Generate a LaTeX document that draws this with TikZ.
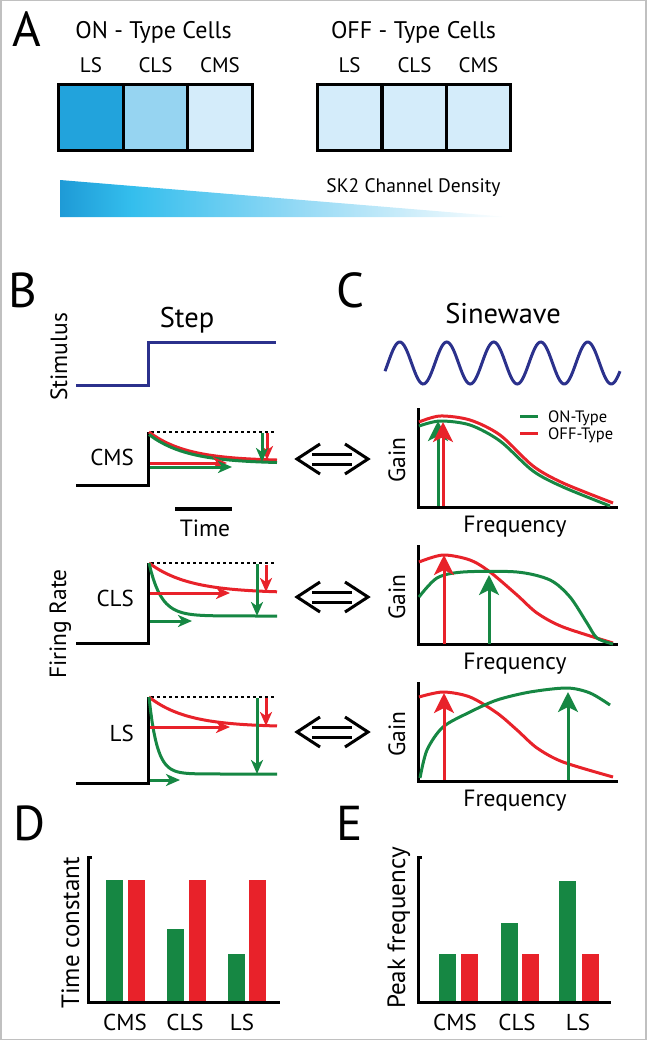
\documentclass[tikz,border=0pt]{standalone}
\usepackage{fontspec}
\setmainfont{PT Sans}
\usetikzlibrary{arrows.meta}

\definecolor{onGreen}{RGB}{22,135,67}
\definecolor{offRed}{RGB}{232,34,42}
\definecolor{stimBlue}{RGB}{43,49,140}
\definecolor{cellDark}{RGB}{34,163,220}
\definecolor{cellMid}{RGB}{150,212,241}
\definecolor{cellLight}{RGB}{212,236,250}
\definecolor{wedgeA}{RGB}{30,154,214}
\definecolor{wedgeB}{RGB}{52,190,237}
\definecolor{wedgeC}{RGB}{150,218,245}
\definecolor{frameGray}{RGB}{192,192,192}
\pgfdeclarehorizontalshading{skdensity}{100bp}{color(0bp)=(wedgeA); color(25bp)=(wedgeA); color(33bp)=(wedgeB); color(52bp)=(wedgeC); color(75bp)=(white); color(100bp)=(white)}

\begin{document}
\begin{tikzpicture}
[x=1pt,y=-1pt,
  panelLetter/.style={anchor=base west,inner sep=0pt,font=\fontsize{49}{49}\selectfont},
  titleText/.style={anchor=base,inner sep=0pt,font=\fontsize{24}{24}\selectfont},
  bigTitle/.style={anchor=base,inner sep=0pt,font=\fontsize{28.5}{28.5}\selectfont},
  cellLabel/.style={anchor=base,inner sep=0pt,font=\fontsize{21}{21}\selectfont},
  barLabel/.style={anchor=base,inner sep=0pt,font=\fontsize{23}{23}\selectfont},
  axisLabel/.style={anchor=base,inner sep=0pt,font=\fontsize{23.5}{23.5}\selectfont},
  rotLabel/.style={axisLabel,rotate=90},
  legendText/.style={anchor=base west,inner sep=0pt,font=\fontsize{16.5}{16.5}\selectfont},
  cellBox/.style={draw,line width=3pt,minimum width=64.5pt,minimum height=66pt,inner sep=0pt},
  blackLine/.style={line width=3pt},
  stimLine/.style={line width=3pt,color=stimBlue},
  redLine/.style={line width=3pt,color=offRed},
  greenLine/.style={line width=3pt,color=onGreen},
  stepArrow/.style={-{Stealth[length=14pt,width=12pt,inset=4pt]}},
  gainArrow/.style={-{Stealth[length=20pt,width=20pt,inset=5pt]}},
  baseLine/.style={dashed,line width=1.2pt,dash pattern=on 3pt off 3pt}]
\useasboundingbox (0,0) rectangle (647,1041);
\draw[frameGray,line width=1.5pt] (0.75,0.75) rectangle (646,1039.5);

%% panel A
\node[panelLetter] (letterA) at (12,47) {A};
\node[titleText] (onTitle) at (153.5,39) {ON - Type Cells};
\node[titleText] (offTitle) at (413.5,39) {OFF - Type Cells};
\foreach \name/\x/\col/\txt in {onLS/91/cellDark/LS, onCLS/155.5/cellMid/CLS, onCMS/220/cellLight/CMS,
  offLS/349.5/cellLight/LS, offCLS/414.5/cellLight/CLS, offCMS/478.5/cellLight/CMS}
{
  \node[cellBox,fill=\col] (\name) at (\x,117) {};
  \node[cellLabel] (\name-lbl) at ([yshift=10.5pt]\name.north) {\txt};
}
\shade[shading=skdensity] (60,180) -- (508,217) -- (60,217) -- cycle;
\node[cellLabel,font=\fontsize{19.5}{19.5}\selectfont] (density) at (413.5,192) {SK2 Channel Density};

%% panel B
\node[panelLetter] (letterB) at (8,307) {B};
\node[bigTitle] (stepTitle) at (187,327) {Step};
\node[rotLabel] (stimLbl) at (67,357) {Stimulus};
\draw[stimLine] (76,385) -- (148,385) -- (148,342) -- (276,342);
\node[rotLabel] (rateLbl) at (66,624) {Firing Rate};
\foreach \name/\txt/\yt/\yb/\yl in {cmsStep/CMS/432/485/465, clsStep/CLS/563/643/606, lsStep/LS/697/783/741}
{
  \node[barLabel,anchor=base east] (\name) at (134,\yl) {\txt};
  \draw[blackLine] (76,\yb) -- (148,\yb) -- (148,\yt);
  \draw[baseLine] (151,\yt) -- (276,\yt);
}
% CMS responses
\draw[redLine] plot[domain=0:128,samples=50] ({149+\x},{461-29*exp(-\x/38)});
\draw[greenLine] plot[domain=0:128,samples=50] ({149+\x},{463.5-29*exp(-\x/38)});
\draw[redLine,stepArrow] (150,463) -- (227,463);
\draw[greenLine,stepArrow] (150,467) -- (232,467);
\draw[redLine,stepArrow] (267,433) -- (267,460);
\draw[greenLine,stepArrow] (262,433) -- (262,462);
% time bar
\draw[line width=4pt] (175,509) -- (232,509);
\node[axisLabel] (timeLbl) at (205,536) {Time};
% CLS responses
\draw[redLine] plot[domain=0:128,samples=50] ({149+\x},{593-30*exp(-\x/40)});
\draw[greenLine] plot[domain=0:128,samples=60] ({149+\x},{616-53*exp(-\x/12)});
\draw[redLine,stepArrow] (150,593) -- (230,593);
\draw[greenLine,stepArrow] (150,621) -- (192,621);
\draw[greenLine,stepArrow] (257,564) -- (257,616);
\draw[redLine,stepArrow] (266,565) -- (266,592);
% LS responses
\draw[redLine] plot[domain=0:128,samples=50] ({149+\x},{727-30*exp(-\x/38)});
\draw[greenLine] plot[domain=0:128,samples=80] ({149+\x},{774-77*exp(-\x/8)});
\draw[redLine,stepArrow] (150,727) -- (230,727);
\draw[greenLine,stepArrow] (150,780) -- (180,780);
\draw[greenLine,stepArrow] (257,698) -- (257,774);
\draw[redLine,stepArrow] (266,698) -- (266,726);

%% double arrows between B and C
\foreach \y in {459,597,732}
{
  \draw[blackLine] (320,\y-15) -- (297,\y) -- (320,\y+15);
  \draw[blackLine] (345,\y-15) -- (368,\y) -- (345,\y+15);
  \draw[blackLine] (312,\y-5) -- (352,\y-5);
  \draw[blackLine] (312,\y+5) -- (352,\y+5);
}

%% panel C
\node[panelLetter] (letterC) at (336,307) {C};
\node[bigTitle] (sineTitle) at (503,323) {Sinewave};
\draw[stimLine] plot[domain=0:235,samples=150] ({385+\x},{363-21*sin((\x-3)/47*360)});
\foreach \name/\y in {cmsGain/408, clsGain/545, lsGain/682}
{
  \draw[blackLine] (418,\y) -- (418,\y+99) -- (618,\y+99);
  \node[rotLabel] (\name) at (405,\y+52) {Gain};
  \node[axisLabel] (\name-freq) at (515,\y+124) {Frequency};
}
% CMS gain
\draw[redLine] plot[smooth] coordinates {(419,422) (440,416) (470,420) (500,435) (533,466) (563,483) (613,503)};
\draw[greenLine] plot[smooth] coordinates {(419,426) (440,421) (470,425) (500,441) (533,471) (563,487) (610,506)};
\draw[greenLine,gainArrow] (438,506) -- (438,421);
\draw[redLine,gainArrow] (443,506) -- (443,422);
\draw[greenLine] (520,416) -- (538,416);
\draw[redLine] (520,433) -- (538,433);
\node[legendText] (onLeg) at (548,422) {ON-Type};
\node[legendText] (offLeg) at (548,439) {OFF-Type};
% CLS gain
\draw[redLine] plot[smooth] coordinates {(419,562) (443,555) (470,560) (490,572) (517,595) (537,613) (563,627) (613,643)};
\draw[greenLine] plot[smooth] coordinates {(419,597) (437,578) (463,572) (517,572) (550,580) (570,597) (587,623) (597,638) (613,644)};
\draw[redLine,gainArrow] (444,644) -- (444,555);
\draw[greenLine,gainArrow] (489,644) -- (489,575);
% LS gain
\draw[redLine] plot[smooth] coordinates {(419,697) (443,692) (470,697) (497,713) (517,730) (537,748) (563,762) (613,777)};
\draw[greenLine] plot[smooth] coordinates {(420,778) (427,750) (443,727) (470,712) (497,700) (530,692) (567,688) (590,693) (610,705)};
\draw[redLine,gainArrow] (444,780) -- (444,693);
\draw[greenLine,gainArrow] (568,780) -- (568,692);

%% panel D
\node[panelLetter] (letterD) at (13,840) {D};
\draw[blackLine] (92,857) -- (88,857) -- (88,1002) -- (280,1002);
\node[rotLabel,font=\fontsize{25}{25}\selectfont] (tauLbl) at (79,933) {Time constant};
\foreach \x/\top/\col in {106/880/onGreen, 128/880/offRed, 167/929/onGreen, 189/880/offRed, 228/954/onGreen, 249/880/offRed}
{
  \fill[\col] (\x,\top) rectangle (\x+17,1000.5);
}
\foreach \name/\x/\txt in {dCMS/125/CMS, dCLS/185/CLS, dLS/242/LS}
{
  \node[barLabel] (\name) at (\x,1030) {\txt};
}

%% panel E
\node[panelLetter] (letterE) at (336,840) {E};
\draw[blackLine] (422,857) -- (418,857) -- (418,1002) -- (611,1002);
\node[rotLabel,font=\fontsize{25}{25}\selectfont] (peakLbl) at (405,928) {Peak frequency};
\foreach \x/\top/\col in {439/954/onGreen, 461/954/offRed, 501/923/onGreen, 522/954/offRed, 559/881/onGreen, 582/954/offRed}
{
  \fill[\col] (\x,\top) rectangle (\x+17,1000.5);
}
\foreach \name/\x/\txt in {eCMS/455/CMS, eCLS/517/CLS, eLS/578/LS}
{
  \node[barLabel] (\name) at (\x,1030) {\txt};
}
\end{tikzpicture}
\end{document}
